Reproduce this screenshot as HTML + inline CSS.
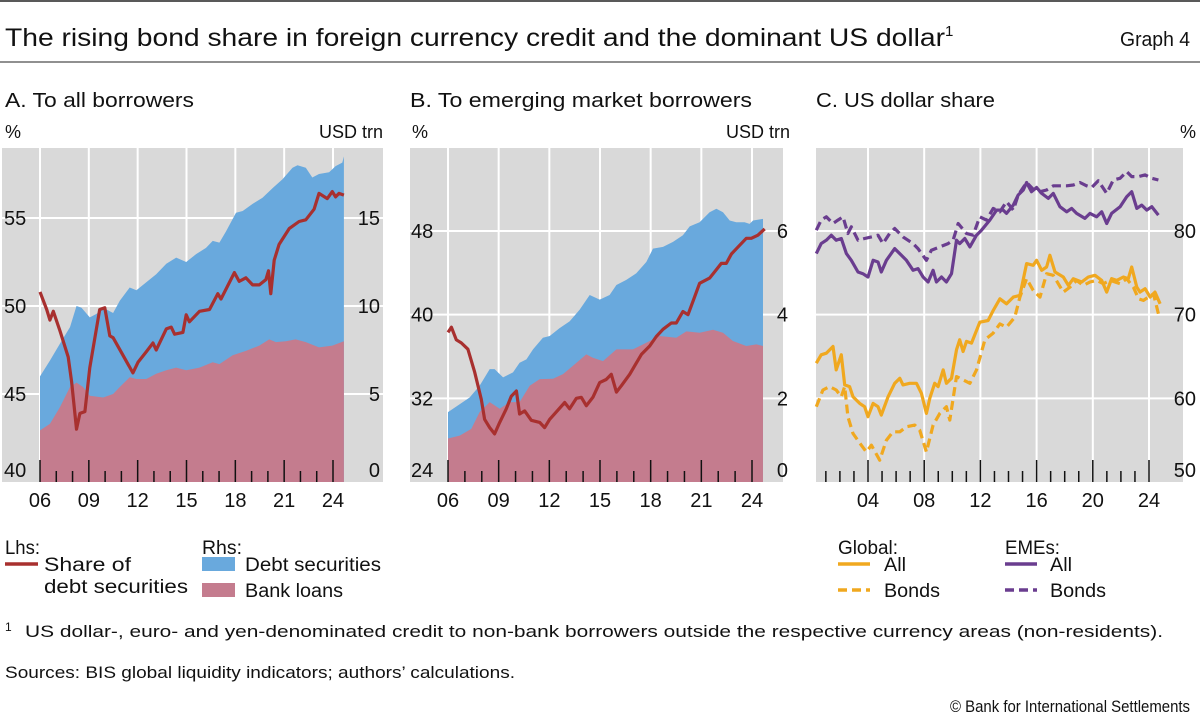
<!DOCTYPE html>
<html><head><meta charset="utf-8"><style>
body{margin:0;background:#fff;}
svg{display:block;font-family:"Liberation Sans",sans-serif;}
</style></head><body>
<svg id="c" width="1200" height="727" viewBox="0 0 1200 727" xmlns="http://www.w3.org/2000/svg">
<line x1="0" y1="1" x2="1200" y2="1" stroke="#222" stroke-width="1.5"/>
<text x="5" y="46" font-size="25" fill="#111"><tspan textLength="940" lengthAdjust="spacingAndGlyphs">The rising bond share in foreign currency credit and the dominant US dollar</tspan><tspan font-size="15" dy="-10">1</tspan></text>
<text x="1120" y="46" font-size="20" fill="#111" textLength="70" lengthAdjust="spacingAndGlyphs">Graph 4</text>
<line x1="0" y1="62" x2="1200" y2="62" stroke="#222" stroke-width="1"/>
<text x="5" y="107" font-size="20" fill="#111" textLength="189" lengthAdjust="spacingAndGlyphs">A. To all borrowers</text>
<text x="410" y="107" font-size="20" fill="#111" textLength="342" lengthAdjust="spacingAndGlyphs">B. To emerging market borrowers</text>
<text x="816" y="107" font-size="20" fill="#111" textLength="179" lengthAdjust="spacingAndGlyphs">C. US dollar share</text>
<g id="pa"></g><g id="pb"></g><g id="pc"></g>
<g>
<text x="5" y="554" font-size="19" fill="#111" textLength="35" lengthAdjust="spacingAndGlyphs">Lhs:</text>
<line x1="5" y1="564" x2="38" y2="564" stroke="#a8302f" stroke-width="3.5"/>
<text x="44" y="571" font-size="19" fill="#111" textLength="87" lengthAdjust="spacingAndGlyphs">Share of</text>
<text x="44" y="593" font-size="19" fill="#111" textLength="144" lengthAdjust="spacingAndGlyphs">debt securities</text>
<text x="202" y="554" font-size="19" fill="#111" textLength="40" lengthAdjust="spacingAndGlyphs">Rhs:</text>
<rect x="202" y="557" width="33" height="14" fill="#69a9dd"/>
<text x="245" y="571" font-size="19" fill="#111" textLength="136" lengthAdjust="spacingAndGlyphs">Debt securities</text>
<rect x="202" y="583" width="33" height="14" fill="#c47c8e"/>
<text x="245" y="597" font-size="19" fill="#111" textLength="98" lengthAdjust="spacingAndGlyphs">Bank loans</text>
</g>
<g>
<text x="838" y="554" font-size="19" fill="#111" textLength="60" lengthAdjust="spacingAndGlyphs">Global:</text>
<line x1="838" y1="564" x2="870" y2="564" stroke="#f0a81f" stroke-width="3.5"/>
<text x="884" y="571" font-size="19" fill="#111" textLength="22" lengthAdjust="spacingAndGlyphs">All</text>
<line x1="838" y1="590" x2="870" y2="590" stroke="#f0a81f" stroke-width="3.5" stroke-dasharray="9,5"/>
<text x="884" y="597" font-size="19" fill="#111" textLength="56" lengthAdjust="spacingAndGlyphs">Bonds</text>
<text x="1005" y="554" font-size="19" fill="#111" textLength="55" lengthAdjust="spacingAndGlyphs">EMEs:</text>
<line x1="1005" y1="564" x2="1037" y2="564" stroke="#6a3d8f" stroke-width="3.5"/>
<text x="1050" y="571" font-size="19" fill="#111" textLength="22" lengthAdjust="spacingAndGlyphs">All</text>
<line x1="1005" y1="590" x2="1037" y2="590" stroke="#6a3d8f" stroke-width="3.5" stroke-dasharray="9,5"/>
<text x="1050" y="597" font-size="19" fill="#111" textLength="56" lengthAdjust="spacingAndGlyphs">Bonds</text>
</g>
<text x="5" y="631" font-size="12" fill="#111">1</text>
<text x="25" y="637" font-size="17" fill="#111" textLength="1138" lengthAdjust="spacingAndGlyphs">US dollar-, euro- and yen-denominated credit to non-bank borrowers outside the respective currency areas (non-residents).</text>
<text x="5" y="678" font-size="17" fill="#111" textLength="510" lengthAdjust="spacingAndGlyphs">Sources: BIS global liquidity indicators; authors’ calculations.</text>
<text x="950" y="712" font-size="17" fill="#111" textLength="240" lengthAdjust="spacingAndGlyphs">© Bank for International Settlements</text>
</svg>
<script>
// Panel A
const aShareDates=[2006.0,2006.41,2006.61,2006.82,2007.22,2007.73,2007.94,2008.24,2008.45,2008.76,2009.06,2009.67,2009.98,2010.29,2010.49,2011.71,2012.02,2012.53,2012.94,2013.14,2013.76,2014.06,2014.27,2014.78,2014.98,2015.18,2015.80,2016.41,2016.92,2017.12,2017.94,2018.24,2018.65,2019.06,2019.47,2019.88,2020.04,2020.18,2020.39,2020.69,2021.31,2021.92,2022.33,2022.84,2023.14,2023.65,2023.96,2024.16,2024.37,2024.67];
const aShare=[50.8,49.8,49.2,49.7,48.6,47.1,45.7,43.0,43.9,44.0,46.5,49.8,49.9,48.3,48.2,46.2,46.8,47.4,47.9,47.5,48.7,48.8,48.4,48.5,49.5,49.1,49.7,49.8,50.7,50.4,51.9,51.4,51.6,51.2,51.2,51.5,52.0,50.7,52.6,53.5,54.4,54.8,54.9,55.5,56.4,56.1,56.5,56.2,56.4,56.3];
const aTotalDates=[2006.0,2006.61,2007.22,2007.84,2008.24,2008.55,2009.06,2009.47,2009.88,2010.49,2010.90,2011.51,2011.92,2012.53,2013.14,2013.76,2014.37,2014.98,2015.59,2016.20,2016.61,2017.02,2017.43,2018.04,2018.45,2019.06,2019.67,2020.29,2020.90,2021.51,2021.82,2022.33,2022.73,2023.14,2023.76,2024.16,2024.57,2024.67];
const aTotal=[6.0,6.9,7.85,8.8,10.0,9.9,9.35,9.55,9.9,9.6,10.3,11.05,10.9,11.35,11.8,12.4,12.75,12.5,12.95,13.3,13.7,13.6,14.25,15.3,15.4,15.8,16.15,16.7,17.2,17.85,18.0,17.85,17.3,17.5,17.6,17.95,18.15,18.5];
const aLoanDates=[2006.0,2006.61,2007.22,2007.84,2008.24,2008.65,2009.06,2009.88,2010.49,2010.90,2011.51,2011.92,2012.53,2013.14,2013.76,2014.37,2014.98,2015.80,2016.61,2017.02,2017.84,2018.65,2019.47,2020.08,2020.49,2021.10,2021.71,2022.33,2023.14,2023.96,2024.67];
const aLoans=[2.93,3.3,4.25,5.4,5.65,5.4,4.9,4.8,5.0,5.4,5.95,5.85,5.85,6.15,6.35,6.5,6.35,6.5,6.8,6.7,7.2,7.45,7.75,8.1,7.95,8.0,8.1,7.95,7.65,7.75,8.0];
const aLeftTicks=[40,45,50,55];
const aRightTicks=[0,5,10,15];
const aYearLabels=["06","09","12","15","18","21","24"];
// Panel B
const bShareDates=[2006.0,2006.2,2006.49,2006.79,2007.18,2007.58,2007.97,2008.17,2008.47,2008.76,2009.06,2009.45,2009.75,2010.05,2010.24,2010.54,2010.93,2011.43,2011.72,2012.02,2012.41,2012.91,2013.20,2013.60,2013.89,2014.19,2014.58,2014.98,2015.37,2015.67,2015.97,2016.26,2016.76,2017.05,2017.45,2017.94,2018.33,2018.73,2019.22,2019.52,2019.91,2020.21,2020.60,2020.90,2021.49,2021.79,2022.18,2022.48,2022.78,2023.07,2023.66,2023.96,2024.35,2024.75];
const bShare=[38.3,38.8,37.6,37.3,36.7,34.5,31.9,30.0,29.2,28.6,29.7,31.0,32.2,32.7,30.5,30.8,29.9,29.7,29.2,30.0,30.7,31.6,31.0,32.0,32.1,31.3,32.1,33.5,33.8,34.3,32.6,33.2,34.3,35.1,36.2,37.0,37.9,38.6,39.2,39.2,40.3,40.0,41.7,43.0,43.5,44.1,44.9,44.9,45.8,46.3,47.3,47.3,47.6,48.2];
const bTotalDates=[2006.0,2006.59,2007.28,2007.87,2008.47,2008.76,2009.26,2009.85,2010.24,2010.64,2011.03,2011.62,2012.02,2012.61,2013.20,2013.80,2014.39,2014.98,2015.57,2015.97,2016.56,2017.15,2017.74,2018.14,2018.73,2019.32,2019.91,2020.31,2020.90,2021.49,2021.89,2022.28,2022.68,2023.07,2023.56,2023.86,2024.06,2024.65];
const bTotal=[1.67,1.83,2.02,2.30,2.70,2.70,2.50,2.62,2.85,2.93,3.17,3.45,3.49,3.68,3.84,4.12,4.47,4.36,4.47,4.71,4.83,4.99,5.26,5.58,5.62,5.74,5.90,6.11,6.21,6.45,6.53,6.45,6.25,6.21,6.21,6.17,6.25,6.29];
const bLoanDates=[2006.0,2006.69,2007.38,2007.87,2008.47,2009.06,2009.65,2010.24,2010.84,2011.43,2012.22,2012.81,2013.40,2014.19,2014.58,2015.18,2015.97,2016.95,2017.74,2018.53,2019.52,2020.11,2020.90,2021.69,2022.28,2022.87,2023.66,2024.26,2024.65];
const bLoans=[1.04,1.11,1.27,1.67,1.91,1.75,1.91,1.91,2.30,2.46,2.47,2.58,2.78,3.05,2.97,2.89,3.17,3.17,3.33,3.49,3.45,3.60,3.57,3.64,3.57,3.37,3.25,3.29,3.25];
const bLeftTicks=[24,32,40,48];
const bRightTicks=[0,2,4,6];
// Panel C
const cGlobalAllDates=[2000.32,2000.67,2001.03,2001.51,2001.74,2002.10,2002.34,2002.69,2002.93,2003.41,2003.76,2004.0,2004.36,2004.71,2004.95,2005.43,2005.90,2006.26,2006.49,2006.97,2007.45,2007.80,2008.16,2008.40,2008.75,2008.99,2009.35,2009.58,2009.94,2010.30,2010.53,2010.77,2011.01,2011.37,2011.96,2012.55,2012.91,2013.39,2013.86,2014.34,2014.81,2015.29,2015.76,2016.00,2016.36,2016.71,2016.95,2017.31,2017.90,2018.26,2018.61,2019.21,2019.68,2020.16,2020.63,2020.99,2021.34,2021.70,2022.18,2022.53,2022.77,2023.13,2023.36,2023.72,2024.08,2024.43,2024.79];
const cGlobalAll=[64.2,65.2,65.4,66.2,63.4,65.2,61.6,61.4,60.2,59.4,59.0,57.8,59.4,59.0,58.0,60.2,61.8,62.4,61.6,61.8,61.8,60.6,58.2,60.0,61.8,61.4,63.4,61.8,62.4,65.8,67.0,65.6,66.8,66.6,69.1,69.3,70.5,71.9,71.3,72.1,72.3,76.1,75.9,76.5,75.3,75.7,77.1,75.1,74.5,73.5,74.3,73.9,74.5,74.7,74.1,72.7,74.3,74.1,74.5,74.3,75.7,73.3,72.7,73.1,72.1,72.7,71.3];
const cGlobalBondDates=[2000.32,2000.79,2001.27,2001.74,2002.10,2002.34,2002.57,2002.93,2003.52,2003.88,2004.24,2004.83,2005.31,2005.78,2006.26,2006.73,2007.33,2007.68,2008.16,2008.63,2009.11,2009.58,2009.82,2010.30,2010.77,2011.25,2011.72,2012.32,2012.91,2013.39,2013.86,2014.45,2014.81,2015.29,2015.76,2016.24,2016.71,2017.19,2017.90,2018.38,2018.85,2019.33,2019.80,2020.28,2020.75,2021.23,2021.94,2022.41,2022.89,2023.25,2023.60,2023.96,2024.32,2024.67];
const cGlobalBonds=[59.0,61.0,61.4,61.0,60.2,61.4,57.8,55.8,54.4,53.6,54.4,52.6,55.0,56.0,56.0,56.6,56.8,56.2,53.6,56.8,58.2,59.0,57.4,62.6,62.2,61.8,63.4,67.0,67.8,68.9,68.5,69.7,72.1,74.3,72.9,72.1,74.9,74.7,72.7,73.3,74.1,73.5,73.9,74.1,73.7,74.1,73.7,74.3,73.3,71.9,71.7,72.1,72.5,70.1];
const cEmeAllDates=[2000.32,2000.67,2001.03,2001.39,2001.74,2002.10,2002.46,2002.81,2003.29,2003.64,2004.0,2004.36,2004.71,2004.95,2005.31,2005.90,2006.38,2006.73,2007.21,2007.56,2007.92,2008.28,2008.63,2008.87,2009.23,2009.58,2009.94,2010.30,2010.53,2010.89,2011.25,2011.72,2012.08,2012.67,2013.15,2013.62,2013.86,2014.34,2014.69,2015.05,2015.29,2015.64,2016.00,2016.36,2016.83,2017.19,2017.66,2018.14,2018.49,2018.85,2019.44,2019.80,2020.28,2020.63,2020.99,2021.34,2021.94,2022.41,2022.77,2023.13,2023.48,2023.84,2024.20,2024.67];
const cEmeAll=[77.3,78.5,78.9,79.5,78.9,79.1,77.3,76.5,75.1,74.9,74.5,76.5,76.3,75.1,76.5,77.9,77.1,76.5,75.3,75.5,74.5,73.9,75.3,73.9,74.5,73.9,74.9,78.9,78.5,79.1,78.1,79.5,80.1,81.3,82.5,82.5,82.1,83.1,84.3,84.9,85.8,84.7,85.2,84.5,83.9,84.5,82.9,82.3,82.7,82.1,81.5,82.1,81.7,82.3,80.9,82.1,82.9,84.1,84.7,82.7,83.1,82.5,82.9,81.9];
const cEmeBondDates=[2000.32,2000.67,2001.03,2001.51,2001.86,2002.22,2002.57,2002.81,2003.29,2003.76,2004.24,2004.71,2005.07,2005.54,2005.90,2006.49,2007.21,2007.56,2008.16,2008.51,2009.11,2009.70,2010.06,2010.42,2011.01,2011.48,2011.96,2012.43,2012.91,2013.39,2013.86,2014.34,2014.69,2015.29,2015.76,2016.24,2016.71,2017.19,2017.66,2018.14,2018.61,2019.09,2019.56,2019.92,2020.39,2020.99,2021.46,2021.94,2022.41,2022.77,2023.25,2023.72,2024.20,2024.67];
const cEmeBonds=[80.1,81.3,81.7,80.9,81.3,81.7,79.7,80.5,78.9,79.1,79.3,79.5,78.5,79.7,80.3,79.3,78.5,77.9,76.5,77.7,78.1,78.5,78.9,80.9,79.7,79.5,81.7,81.3,82.7,82.3,83.5,82.5,84.3,85.8,85.0,84.7,84.9,85.4,85.4,85.4,85.5,85.8,85.4,85.2,86.0,84.5,86.1,86.3,87.1,86.5,86.5,86.7,86.3,86.1];
const cTicks=[50,60,70,80];
const cYearLabels=["04","08","12","16","20","24"];

const NS="http://www.w3.org/2000/svg";
function mk(parent,tag,attrs){const e=document.createElementNS(NS,tag);for(const k in attrs)e.setAttribute(k,attrs[k]);parent.appendChild(e);return e;}
function lin(d0,d1,r0,r1){return v=>r0+(v-d0)/(d1-d0)*(r1-r0);}
function pts(dates,vals,x,y){return dates.map((d,i)=>x(d).toFixed(1)+","+y(vals[i]).toFixed(1)).join(" ");}
function area(g,dates,vals,x,y,base,fill,name){
  const p=mk(g,"polygon",{points:x(dates[0])+","+base+" "+pts(dates,vals,x,y)+" "+x(dates[dates.length-1])+","+base,fill:fill});
  
  
}
function line(g,dates,vals,x,y,color,dash,name){
  const p=mk(g,"polyline",{points:pts(dates,vals,x,y),fill:"none",stroke:color,"stroke-width":3.2,"stroke-linejoin":"round"});
  if(dash)p.setAttribute("stroke-dasharray","9,5");
  
  
}
function frame(g,L,R,T,B,gridYs,vxs){
  const r=mk(g,"rect",{x:L,y:T,width:R-L,height:B-T,fill:"#d9d9d9"});
  
  
  gridYs.forEach(yv=>mk(g,"line",{x1:L,x2:R,y1:yv,y2:yv,stroke:"#fff","stroke-width":2}));
  vxs.forEach(xv=>mk(g,"line",{x1:xv,x2:xv,y1:T,y2:B,stroke:"#fff","stroke-width":2}));
}
function txt(g,x,y,s,anchor,name,size){const t=mk(g,"text",{x:x,y:y,"font-size":size||20,fill:"#111","text-anchor":anchor||"start"});t.textContent=s;
  
  
  return t;}

function ticksYears(g,x,first,last,majorEvery,majorStart,labels,B){
  let li=0;
  for(let yr=first;yr<=last;yr++){
    const major=((yr-majorStart)%majorEvery===0);
    mk(g,"line",{x1:x(yr),x2:x(yr),y1:B-(major?22:11),y2:B,stroke:"#111","stroke-width":1.5});
    if(major&&li<labels.length){txt(g,x(yr),507,labels[li],"middle","x-tick-label");li++;}
  }
}
// Panel A
(function(){
  const g=document.getElementById("pa");
  const L=2,R=383,T=148,B=482;
  const x=lin(2006,2024,40,333);
  const yl=lin(40,55,482,218), yr=lin(0,15,482,218);
  frame(g,L,R,T,B,aLeftTicks.slice(1).map(yl),aYearLabels.map((s,i)=>x(2006+3*i)));
  area(g,aTotalDates,aTotal,x,yr,B,"#69a9dd","debt-securities-area");
  area(g,aLoanDates,aLoans,x,yr,B,"#c47c8e","bank-loans-area");
  ticksYears(g,x,2006,2024,3,2006,aYearLabels,B);
  line(g,aShareDates,aShare,x,yl,"#a8302f",false,"share-debt-securities-line");
  aLeftTicks.forEach((v,i)=>txt(g,4,(i===0?470:yl(v))+7,String(v),"start","y-left-tick"));
  aRightTicks.forEach((v,i)=>txt(g,380,(i===0?470:yr(v))+7,String(v),"end","y-right-tick"));
  txt(g,5,138,"%","start","y-left-unit",18);txt(g,383,138,"USD trn","end","y-right-unit",18);
})();
// Panel B
(function(){
  const g=document.getElementById("pb");
  const L=410,R=783,T=148,B=482;
  const x=lin(2006,2024,448,752);
  const yl=lin(24,48,482,231), yr=lin(0,6,482,231);
  frame(g,L,R,T,B,bLeftTicks.slice(1).map(yl),aYearLabels.map((s,i)=>x(2006+3*i)));
  area(g,bTotalDates,bTotal,x,yr,B,"#69a9dd","debt-securities-area");
  area(g,bLoanDates,bLoans,x,yr,B,"#c47c8e","bank-loans-area");
  ticksYears(g,x,2006,2024,3,2006,aYearLabels,B);
  line(g,bShareDates,bShare,x,yl,"#a8302f",false,"share-debt-securities-line");
  bLeftTicks.forEach((v,i)=>txt(g,411,(i===0?470:yl(v))+7,String(v),"start","y-left-tick"));
  bRightTicks.forEach((v,i)=>txt(g,788,(i===0?470:yr(v))+7,String(v),"end","y-right-tick"));
  txt(g,412,138,"%","start","y-left-unit",18);txt(g,790,138,"USD trn","end","y-right-unit",18);
})();
// Panel C
(function(){
  const g=document.getElementById("pc");
  const L=816,R=1183,T=148,B=482;
  const x=lin(2004,2024,868,1149);
  const y=lin(50,80,482,231);
  frame(g,L,R,T,B,cTicks.slice(1).map(y),cYearLabels.map((s,i)=>x(2004+4*i)));
  ticksYears(g,x,2001,2024,4,2004,[],B);
  cYearLabels.forEach((s,i)=>txt(g,x(2004+4*i),507,s,"middle","x-tick-label"));
  line(g,cGlobalBondDates,cGlobalBonds,x,y,"#f0a81f",true,"global-bonds-line");
  line(g,cGlobalAllDates,cGlobalAll,x,y,"#f0a81f",false,"global-all-line");
  line(g,cEmeBondDates,cEmeBonds,x,y,"#6a3d8f",true,"emes-bonds-line");
  line(g,cEmeAllDates,cEmeAll,x,y,"#6a3d8f",false,"emes-all-line");
  cTicks.forEach((v,i)=>txt(g,1196,(i===0?470:y(v))+7,String(v),"end","y-right-tick"));
  txt(g,1196,138,"%","end","y-right-unit",18);
})();
</script>
</body></html>
